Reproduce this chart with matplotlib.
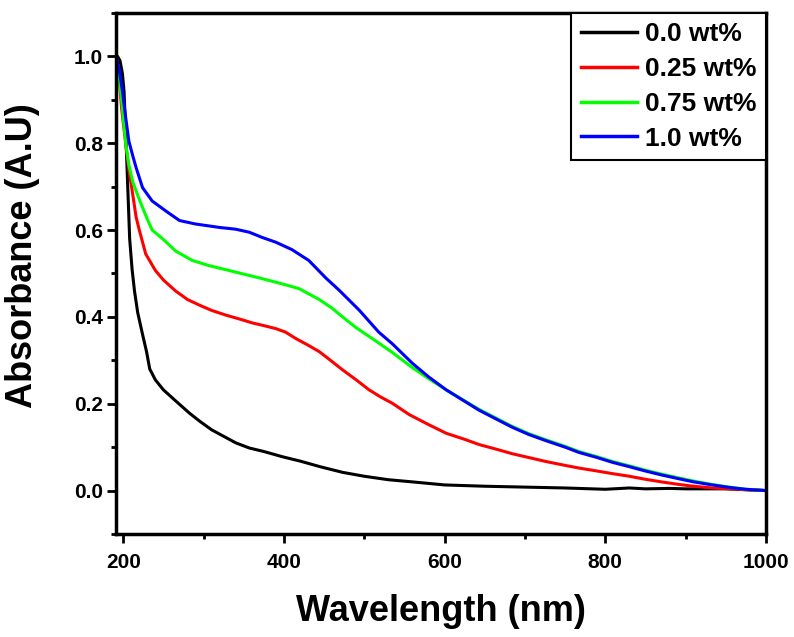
import matplotlib
matplotlib.use('Agg')
import matplotlib.pyplot as plt
from matplotlib.ticker import MultipleLocator

# UV-vis absorbance spectra
wl_00 = [191, 193, 196, 199, 201, 204, 208, 211, 214, 218, 224, 229, 233, 240, 250, 265, 282, 295,
         310, 325, 340, 357, 375, 398, 420, 445, 473, 500, 530, 560, 600, 650, 700, 750, 800, 830,
         850, 880, 900, 950, 975, 1000]
abs_00 = [0.99, 1.0, 0.99, 0.96, 0.92, 0.78, 0.58, 0.51, 0.46, 0.41, 0.36, 0.32, 0.28, 0.255, 0.232,
          0.207, 0.179, 0.16, 0.14, 0.125, 0.11, 0.098, 0.09, 0.078, 0.068, 0.055, 0.042, 0.033,
          0.025, 0.02, 0.013, 0.01, 0.008, 0.006, 0.003, 0.006, 0.004, 0.005, 0.004, 0.004, 0.002, 0.0]

wl_25 = [191, 194, 198, 203, 207, 212, 216, 220, 228, 240, 250, 265, 280, 295, 310, 328, 345, 361,
         375, 390, 402, 415, 430, 444, 458, 473, 490, 506, 520, 535, 556, 580, 602, 625, 643, 665,
         684, 705, 726, 750, 767, 790, 809, 830, 850, 870, 892, 910, 933, 955, 975, 1000]
abs_25 = [1.0, 0.97, 0.88, 0.8, 0.74, 0.68, 0.63, 0.6, 0.545, 0.507, 0.485, 0.46, 0.44, 0.427, 0.415,
          0.404, 0.395, 0.386, 0.38, 0.373, 0.365, 0.35, 0.335, 0.32, 0.3, 0.278, 0.255, 0.232,
          0.216, 0.201, 0.175, 0.152, 0.132, 0.118, 0.106, 0.095, 0.085, 0.076, 0.067, 0.058,
          0.052, 0.045, 0.039, 0.033, 0.026, 0.02, 0.014, 0.01, 0.006, 0.004, 0.002, 0.0]

wl_75 = [191, 194, 198, 203, 207, 212, 218, 224, 230, 236, 249, 265, 286, 307, 336, 369, 398, 419,
         444, 460, 473, 490, 514, 535, 560, 580, 602, 622, 643, 665, 684, 705, 726, 750, 767, 790,
         809, 830, 850, 870, 892, 910, 933, 955, 975, 1000]
abs_75 = [1.0, 0.97, 0.9, 0.8, 0.75, 0.71, 0.68, 0.652, 0.625, 0.6, 0.58, 0.552, 0.53, 0.518, 0.505,
          0.49, 0.476, 0.465, 0.44, 0.42, 0.40, 0.375, 0.345, 0.318, 0.283, 0.258, 0.232, 0.21,
          0.187, 0.166, 0.148, 0.131, 0.117, 0.102, 0.09, 0.078, 0.067, 0.057, 0.047, 0.038,
          0.029, 0.022, 0.014, 0.008, 0.003, 0.0]

wl_10 = [191, 195, 199, 203, 207, 212, 216, 224, 236, 253, 270, 290, 320, 340, 357, 373, 390, 410,
         431, 452, 469, 494, 518, 535, 560, 580, 602, 622, 643, 665, 684, 705, 726, 750, 767, 790,
         809, 830, 850, 870, 892, 910, 933, 955, 975, 1000]
abs_10 = [1.0, 0.97, 0.92, 0.86, 0.805, 0.77, 0.744, 0.698, 0.667, 0.644, 0.622, 0.614, 0.606, 0.602,
          0.595, 0.583, 0.572, 0.555, 0.53, 0.49, 0.461, 0.415, 0.365, 0.338, 0.293, 0.262, 0.232,
          0.209, 0.185, 0.164, 0.146, 0.129, 0.115, 0.1, 0.088, 0.076, 0.065, 0.055, 0.045,
          0.036, 0.027, 0.02, 0.013, 0.007, 0.003, 0.0]

labels = ['0.0 wt%', '0.25 wt%', '0.75 wt%', '1.0 wt%']
colors = ['#000000', '#ff0000', '#00ff00', '#0000ff']

plt.rcParams['font.family'] = ['Liberation Sans', 'DejaVu Sans']
plt.rcParams['font.weight'] = 'bold'

fig = plt.figure(figsize=(7.94, 6.37), dpi=100)
ax = fig.add_axes([0.1461, 0.1617, 0.8186, 0.8179])

series = [(wl_00, abs_00), (wl_25, abs_25), (wl_75, abs_75), (wl_10, abs_10)]
for (x, y), lab, col in zip(series, labels, colors):
    ax.plot(x, y, color=col, lw=2.2, label=lab)

ax.set_xlim(191, 1000)
ax.set_ylim(-0.1, 1.1)
ax.set_xticks([200, 400, 600, 800, 1000])
ax.set_yticks([0.0, 0.2, 0.4, 0.6, 0.8, 1.0])
ax.xaxis.set_minor_locator(MultipleLocator(100))
ax.yaxis.set_minor_locator(MultipleLocator(0.1))

for s in ax.spines.values():
    s.set_linewidth(2.5)
ax.tick_params(which='major', direction='out', length=6.5, width=2, labelsize=15)
ax.tick_params(which='minor', direction='out', length=3.5, width=2)
ax.tick_params(axis='x', which='major', pad=7)
ax.tick_params(axis='y', which='major', pad=3)
for t in ax.get_xticklabels() + ax.get_yticklabels():
    t.set_fontweight('bold')

ax.set_xlabel('Wavelength (nm)', fontsize=26, fontweight='bold')
ax.set_ylabel('Absorbance (A.U)', fontsize=26, fontweight='bold')
ax.xaxis.set_label_coords(0.5, -0.115)
ax.yaxis.set_label_coords(-0.117, 0.535)

leg = ax.legend(loc='upper right', fontsize=19, frameon=True, fancybox=False,
                edgecolor='black', framealpha=1, borderaxespad=0.0, borderpad=0.35,
                handlelength=2.15, handletextpad=0.3, labelspacing=0.41)
leg.get_frame().set_linewidth(1.5)
for t in leg.get_texts():
    t.set_fontweight('bold')
for h in leg.get_lines():
    h.set_linewidth(2.5)

fig.savefig('out.png', dpi=100)
